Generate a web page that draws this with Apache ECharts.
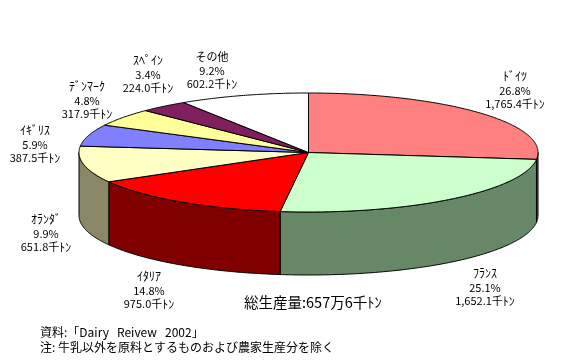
<!DOCTYPE html>
<html>
<head>
<meta charset="utf-8">
<style>html,body{margin:0;padding:0;background:#fff}#main{width:573px;height:360px}</style>
<script src="https://cdn.jsdelivr.net/npm/echarts@6/dist/echarts.min.js"></script>
</head>
<body>
<div id="main"></div>
<script>
const countries = ['ﾄﾞｲﾂ', 'ﾌﾗﾝｽ', 'ｲﾀﾘｱ', 'ｵﾗﾝﾀﾞ', 'ｲｷﾞﾘｽ', 'ﾃﾞﾝﾏｰｸ', 'ｽﾍﾟｲﾝ', 'その他'];
const shares = [26.8, 25.1, 14.8, 9.9, 5.9, 4.8, 3.4, 9.2];
const tons = [1765.4, 1652.1, 975.0, 651.8, 387.5, 317.9, 224.0, 602.2];

const topColors = ['#ff8080', '#ccffcc', '#ff0000', '#ffffc4', '#8080ff', '#ffff99', '#802060', '#ffffff'];
const sideColors = ['#804040', '#668866', '#800000', '#888866', '#404080', '#888850', '#401030', '#888888'];
// label centres, first line
const labelPos = [[515, 77], [485, 274], [149, 277], [46, 220], [35, 131], [87, 87], [148, 61], [212, 57]];

const cx = 308.5, cy = 152.5, rx = 229.5, ry = 59.5, depth = 63;
const total = tons.reduce((a, b) => a + b, 0);

// angle from 12 o'clock, clockwise
const angles = [0];
tons.forEach((t, i) => angles.push(angles[i] + t / total * Math.PI * 2));

const rim = (a, dy) => [cx + rx * Math.sin(a), cy - ry * Math.cos(a) + dy];

function arc(from, to, dy) {
  const pts = [];
  const n = Math.max(2, Math.ceil((to - from) / 0.01));
  for (let k = 0; k <= n; k++) pts.push(rim(from + (to - from) * k / n, dy));
  return pts;
}

function renderTop(params, api) {
  const i = api.value(0);
  return {
    type: 'polygon',
    shape: { points: [[cx, cy]].concat(arc(angles[i], angles[i + 1], 0)) },
    style: { fill: topColors[i], stroke: '#000', lineWidth: 1, lineJoin: 'round' }
  };
}

function renderSide(params, api) {
  const i = api.value(0);
  // only the near half of the rim can be seen
  const from = Math.max(angles[i], Math.PI / 2);
  const to = Math.min(angles[i + 1], Math.PI * 1.5);
  if (to <= from) return null;
  return {
    type: 'polygon',
    shape: { points: arc(from, to, 0).concat(arc(from, to, depth).reverse()) },
    style: { fill: sideColors[i], stroke: '#000', lineWidth: 1 }
  };
}

function renderLabel(params, api) {
  const i = api.value(0);
  const t = tons[i].toFixed(1).replace(/\B(?=(\d{3})+(?!\d))/, ',');
  // half-width kana needs a bigger size to keep up with the digits
  const nameStyle = /[ｦ-ﾟ]/.test(countries[i]) ? 'k' : 'n';
  return {
    type: 'text',
    x: labelPos[i][0],
    y: labelPos[i][1] - 7,
    style: {
      text: '{' + nameStyle + '|' + countries[i] + '}\n{n|' + shares[i].toFixed(1) + '%}\n{n|' + t + '千}{k|ﾄﾝ}',
      fill: '#000',
      align: 'center',
      verticalAlign: 'top',
      rich: {
        n: { fontFamily: 'Noto Sans CJK JP', fontSize: 11, lineHeight: 13.7 },
        k: { fontFamily: 'Noto Sans CJK JP', fontSize: 12, lineHeight: 13.7 }
      }
    }
  };
}

const rows = tons.map((t, i) => [i]);
const chart = echarts.init(document.getElementById('main'));
chart.setOption({
  animation: false,
  backgroundColor: '#fff',
  graphic: [
    { type: 'text', x: 244, y: 295, style: { text: '総生産量:657万6千ﾄﾝ', fill: '#000', font: '14.5px "Noto Sans CJK JP"' } },
    { type: 'text', x: 40, y: 326, style: { text: '資料:「Dairy   Reivew   2002」', fill: '#000', font: '12px "Noto Sans CJK JP"' } },
    { type: 'text', x: 40, y: 341, style: { text: '注: 牛乳以外を原料とするものおよび農家生産分を除く', fill: '#000', font: '12px "Noto Sans CJK JP"' } }
  ],
  series: [
    { type: 'custom', coordinateSystem: 'none', silent: true, z: 1, data: rows, renderItem: renderSide },
    { type: 'custom', coordinateSystem: 'none', silent: true, z: 2, data: rows, renderItem: renderTop },
    { type: 'custom', coordinateSystem: 'none', silent: true, z: 3, data: rows, renderItem: renderLabel }
  ]
});
</script>
</body>
</html>
